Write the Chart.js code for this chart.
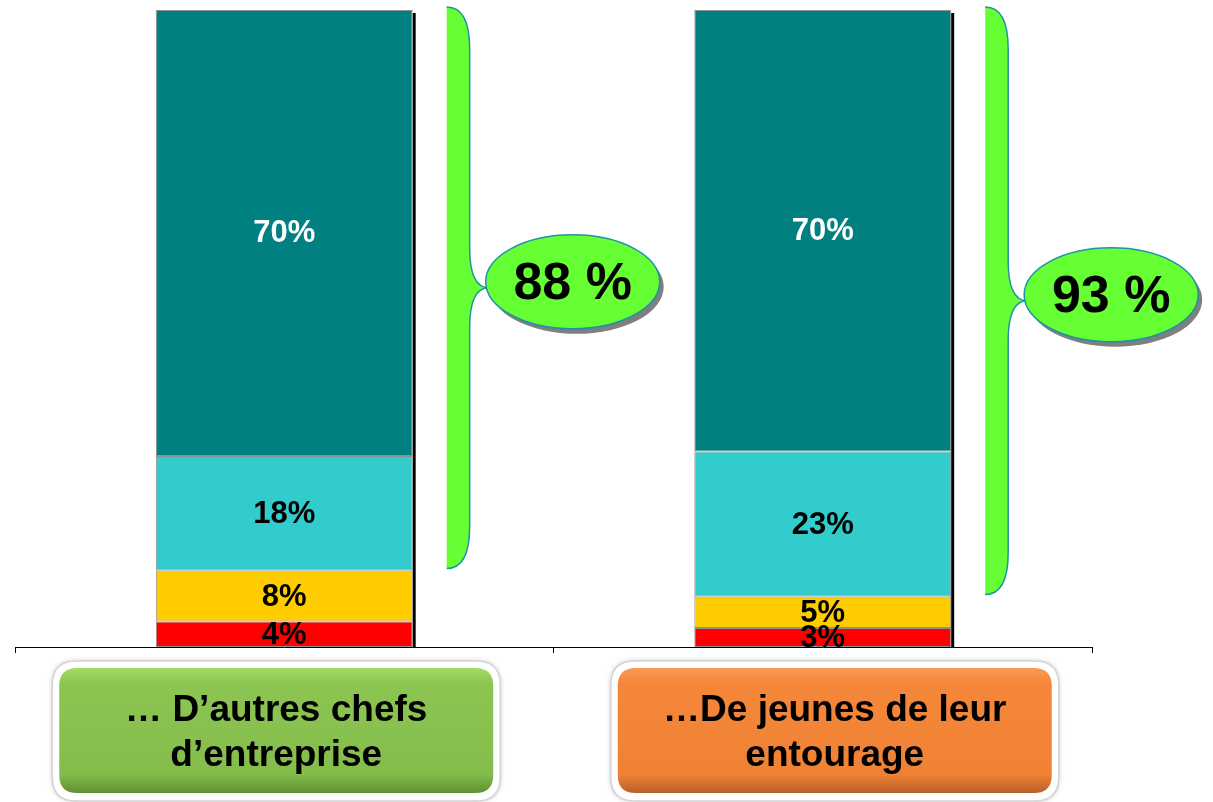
<!DOCTYPE html>
<html><head><meta charset="utf-8">
<script src="https://cdn.jsdelivr.net/npm/chart.js@4.4.1/dist/chart.umd.min.js"></script>
<style>html,body{margin:0;padding:0;background:#fff;}canvas{display:block;}</style>
</head><body>
<canvas id="c" width="1213" height="802"></canvas>
<script>
// ---- data ----
const categories = [["… D’autres chefs", "d’entreprise"], ["…De jeunes de leur", "entourage"]];
const redValues = [4, 3];
const yellowValues = [8, 5];
const cyanValues = [18, 23];
const tealValues = [70, 70];

const series = [redValues, yellowValues, cyanValues, tealValues];
// 100% stacked: each bar is scaled to its own total (the printed labels keep the raw values)
const totals = categories.map((_, i) => series.reduce((s, arr) => s + arr[i], 0));
const share = arr => arr.map((v, i) => v / totals[i] * 100);

const FONT = '"Liberation Sans", Arial, Helvetica, sans-serif';
const boxShift = [-8, 12];
const boxColors = [
  ['#a3db66', '#8cc552', '#84bd4b', '#5f8f32'],
  ['#fa9a52', '#f5873a', '#f08234', '#b8602a']
];

function rr(ctx, x, y, w, h, r) {
  ctx.beginPath();
  ctx.moveTo(x + r, y);
  ctx.lineTo(x + w - r, y);
  ctx.quadraticCurveTo(x + w, y, x + w, y + r);
  ctx.lineTo(x + w, y + h - r);
  ctx.quadraticCurveTo(x + w, y + h, x + w - r, y + h);
  ctx.lineTo(x + r, y + h);
  ctx.quadraticCurveTo(x, y + h, x, y + h - r);
  ctx.lineTo(x, y + r);
  ctx.quadraticCurveTo(x, y, x + r, y);
  ctx.closePath();
}

function bracePath(ctx, L, top, bot, mid) {
  const w = 23, tip = 42, r = 42, mr = 40;
  ctx.moveTo(L, top);
  ctx.quadraticCurveTo(L + w, top, L + w, top + r);
  ctx.lineTo(L + w, mid - mr);
  ctx.quadraticCurveTo(L + w, mid, L + tip, mid);
  ctx.quadraticCurveTo(L + w, mid, L + w, mid + mr);
  ctx.lineTo(L + w, bot - r);
  ctx.quadraticCurveTo(L + w, bot, L, bot);
}

const deco = {
  id: 'deco',
  beforeDatasetsDraw(chart) {
    const ctx = chart.ctx, ca = chart.chartArea;
    const meta = chart.getDatasetMeta(chart.data.datasets.length - 1);
    ctx.save();
    meta.data.forEach(b => {
      const r = b.x + b.width / 2;
      const t = Math.max(b.y, ca.top);
      ctx.fillStyle = '#000';
      ctx.fillRect(r, t + 3, 3, ca.bottom - t - 3);
    });
    ctx.restore();
  },
  afterDatasetsDraw(chart) {
    const ctx = chart.ctx;
    ctx.save();
    ctx.font = 'bold 31px ' + FONT;
    ctx.textAlign = 'center';
    ctx.textBaseline = 'middle';
    chart.data.datasets.forEach((ds, di) => {
      const meta = chart.getDatasetMeta(di);
      meta.data.forEach((b, i) => {
        ctx.fillStyle = ds.labelColor;
        ctx.fillText(ds.raw[i] + '%', b.x, (b.y + b.base) / 2 + 1);
      });
    });
    ctx.restore();
  },
  afterDraw(chart) {
    const ctx = chart.ctx, ys = chart.scales.y, xs = chart.scales.x;
    const meta = chart.getDatasetMeta(chart.data.datasets.length - 1);
    const lowMeta = chart.getDatasetMeta(1);
    ctx.save();
    meta.data.forEach((b, i) => {
      const right = b.x + b.width / 2;
      const L = right + 34;
      const top = b.y - 3;
      const bot = lowMeta.data[i].y - 2;
      const mid = (top + bot) / 2;
      // brace
      ctx.beginPath();
      bracePath(ctx, L, top, bot, mid);
      ctx.closePath();
      ctx.fillStyle = '#66ff33';
      ctx.fill();
      ctx.beginPath();
      bracePath(ctx, L, top, bot, mid);
      ctx.strokeStyle = '#1f93a6';
      ctx.lineWidth = 1.5;
      ctx.stroke();
      // ellipse
      const rx = 87, ry = 47;
      const cx = L + 39 + rx, cy = mid - 6;
      ctx.beginPath();
      ctx.ellipse(cx + 4, cy + 5, rx, ry, 0, 0, Math.PI * 2);
      ctx.fillStyle = '#7f7f7f';
      ctx.fill();
      ctx.beginPath();
      ctx.ellipse(cx, cy, rx, ry, 0, 0, Math.PI * 2);
      ctx.fillStyle = '#66ff33';
      ctx.fill();
      ctx.strokeStyle = '#1f93a6';
      ctx.lineWidth = 1.5;
      ctx.stroke();
      const total = tealValues[i] + cyanValues[i];
      ctx.fillStyle = '#000';
      ctx.font = 'bold 52px ' + FONT;
      ctx.textAlign = 'center';
      ctx.textBaseline = 'middle';
      ctx.fillText(total + ' %', cx, cy + 3);
    });
    // category boxes
    chart.data.labels.forEach((lab, i) => {
      const cx = xs.getPixelForValue(i) + boxShift[i];
      ctx.save();
      ctx.shadowColor = 'rgba(0,0,0,0.25)';
      ctx.shadowBlur = 5;
      rr(ctx, cx - 224, 661, 448, 140, 24);
      ctx.fillStyle = '#fff';
      ctx.fill();
      ctx.restore();
      rr(ctx, cx - 224, 661, 448, 140, 24);
      ctx.strokeStyle = '#d4d4d4';
      ctx.lineWidth = 1.5;
      ctx.stroke();
      const c = boxColors[i];
      const g = ctx.createLinearGradient(0, 668, 0, 793);
      g.addColorStop(0, c[0]);
      g.addColorStop(0.12, c[1]);
      g.addColorStop(0.85, c[2]);
      g.addColorStop(1, c[3]);
      rr(ctx, cx - 217, 668, 434, 125, 18);
      ctx.fillStyle = g;
      ctx.fill();
      ctx.fillStyle = '#000';
      ctx.font = 'bold 37px ' + FONT;
      ctx.textAlign = 'center';
      ctx.textBaseline = 'middle';
      ctx.fillText(lab[0], cx, 711);
      ctx.fillText(lab[1], cx, 756);
    });
    ctx.restore();
  }
};

const common = { borderWidth: 1, borderColor: '#8f8f8f', borderSkipped: false, barPercentage: 0.477, categoryPercentage: 1 };

new Chart(document.getElementById('c'), {
  type: 'bar',
  data: {
    labels: categories,
    datasets: [
      Object.assign({ label: 'Rouge', raw: redValues, data: share(redValues), backgroundColor: '#ff0000', labelColor: '#000' }, common),
      Object.assign({ label: 'Jaune', raw: yellowValues, data: share(yellowValues), backgroundColor: '#ffcc00', labelColor: '#000' }, common),
      Object.assign({ label: 'Turquoise', raw: cyanValues, data: share(cyanValues), backgroundColor: '#33cccc', labelColor: '#000' }, common),
      Object.assign({ label: 'Sarcelle', raw: tealValues, data: share(tealValues), backgroundColor: '#008080', labelColor: '#fff' }, common)
    ]
  },
  options: {
    responsive: false,
    animation: false,
    layout: { padding: { left: 15, right: 121, top: 10, bottom: 0 } },
    plugins: { legend: { display: false }, tooltip: { enabled: false } },
    scales: {
      x: {
        stacked: true,
        grid: { display: true, drawOnChartArea: false, drawTicks: true, tickLength: 6, color: '#000', offset: true },
        border: { display: true, color: '#000', width: 1 },
        ticks: { display: false },
        afterFit(scale) { scale.height = 155; }
      },
      y: { stacked: true, min: 0, max: 100, display: false }
    }
  },
  plugins: [deco]
});
</script>
</body></html>
